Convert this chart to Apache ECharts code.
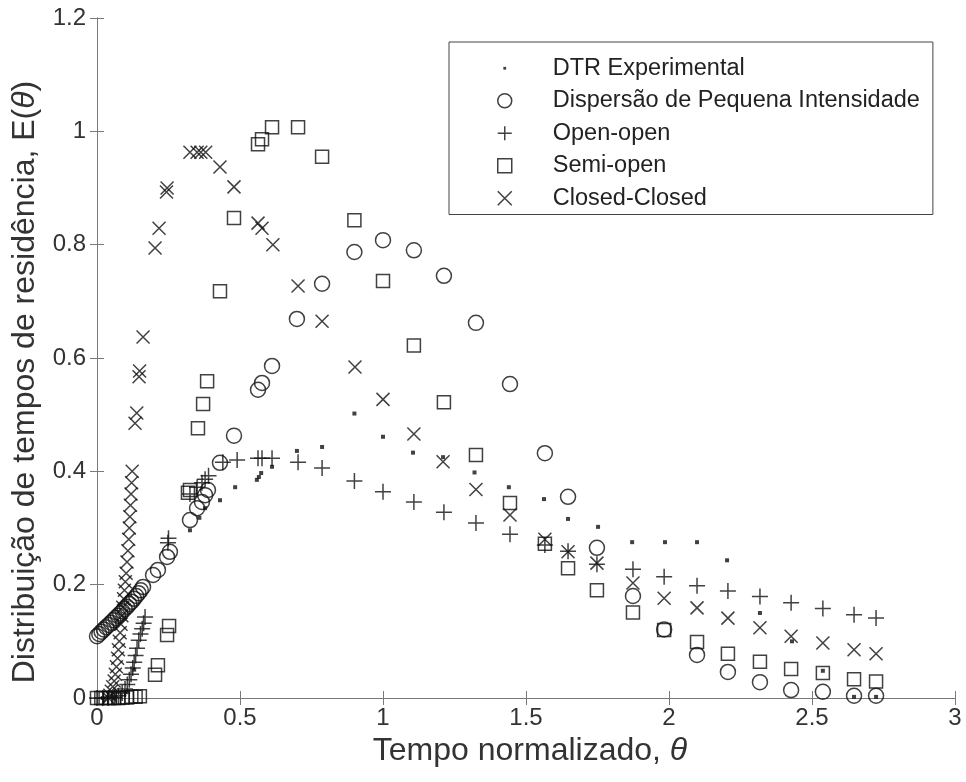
<!DOCTYPE html>
<html><head><meta charset="utf-8">
<script src="https://cdn.jsdelivr.net/npm/echarts/dist/echarts.min.js"></script>
<style>html,body{margin:0;padding:0;background:#fff}#c{width:966px;height:782px}</style>
</head><body><div id="c"></div><script>
// ---- data ----
const legendNames = ['DTR Experimental', 'Dispersão de Pequena Intensidade', 'Open-open', 'Semi-open', 'Closed-Closed'];
const xTicks = [0, 0.5, 1, 1.5, 2, 2.5, 3];
const yTicks = [0, 0.2, 0.4, 0.6, 0.8, 1, 1.2];

const expX = [0.02, 0.06, 0.10, 0.13, 0.325, 0.358, 0.378, 0.43, 0.483, 0.559, 0.566, 0.574, 0.612, 0.699, 0.787, 0.9, 1.0, 1.105, 1.21, 1.32, 1.44, 1.563, 1.647, 1.752, 1.871, 1.986, 2.098, 2.203, 2.318, 2.43, 2.538, 2.647, 2.724];
const expY = [0.0, 0.0, 0.01, 0.05, 0.296, 0.318, 0.335, 0.349, 0.372, 0.385, 0.39, 0.397, 0.408, 0.436, 0.443, 0.502, 0.461, 0.433, 0.425, 0.398, 0.372, 0.351, 0.316, 0.302, 0.275, 0.275, 0.275, 0.243, 0.15, 0.10, 0.048, 0.002, 0.002];

const dispX = [0.0, 0.008, 0.016, 0.024, 0.032, 0.041, 0.049, 0.057, 0.065, 0.073, 0.081, 0.089, 0.097, 0.105, 0.113, 0.121, 0.129, 0.137, 0.145, 0.153, 0.161, 0.196, 0.213, 0.245, 0.255, 0.325, 0.35, 0.367, 0.378, 0.388, 0.43, 0.479, 0.563, 0.577, 0.612, 0.699, 0.787, 0.9, 1.0, 1.108, 1.213, 1.325, 1.444, 1.566, 1.647, 1.748, 1.874, 1.983, 2.098, 2.206, 2.318, 2.427, 2.538, 2.647, 2.724];
const dispY = [0.109, 0.113, 0.117, 0.121, 0.125, 0.129, 0.133, 0.137, 0.141, 0.145, 0.149, 0.153, 0.157, 0.161, 0.166, 0.170, 0.175, 0.180, 0.185, 0.190, 0.196, 0.217, 0.226, 0.249, 0.258, 0.314, 0.335, 0.346, 0.358, 0.367, 0.415, 0.463, 0.544, 0.556, 0.586, 0.669, 0.731, 0.787, 0.808, 0.79, 0.745, 0.662, 0.554, 0.432, 0.355, 0.265, 0.18, 0.121, 0.076, 0.046, 0.028, 0.014, 0.011, 0.004, 0.004];

const openX = [0.0, 0.02, 0.04, 0.06, 0.075, 0.088, 0.098, 0.106, 0.113, 0.119, 0.125, 0.13, 0.135, 0.14, 0.146, 0.152, 0.158, 0.163, 0.168, 0.248, 0.25, 0.325, 0.35, 0.367, 0.378, 0.39, 0.44, 0.49, 0.563, 0.577, 0.612, 0.703, 0.787, 0.9, 1.0, 1.108, 1.213, 1.325, 1.444, 1.566, 1.647, 1.748, 1.874, 1.983, 2.098, 2.206, 2.318, 2.427, 2.538, 2.647, 2.724];
const openY = [0.0, 0.0, 0.0, 0.001, 0.004, 0.009, 0.016, 0.024, 0.032, 0.042, 0.053, 0.063, 0.075, 0.088, 0.102, 0.113, 0.122, 0.132, 0.143, 0.274, 0.282, 0.36, 0.372, 0.38, 0.386, 0.392, 0.416, 0.42, 0.423, 0.423, 0.423, 0.416, 0.406, 0.383, 0.364, 0.346, 0.328, 0.309, 0.289, 0.27, 0.259, 0.236, 0.227, 0.214, 0.198, 0.189, 0.179, 0.168, 0.158, 0.147, 0.141];

const semiX = [0.0, 0.015, 0.03, 0.045, 0.06, 0.075, 0.09, 0.105, 0.12, 0.135, 0.15, 0.203, 0.213, 0.245, 0.252, 0.318, 0.325, 0.353, 0.371, 0.385, 0.43, 0.479, 0.563, 0.577, 0.612, 0.703, 0.787, 0.9, 1.0, 1.108, 1.213, 1.325, 1.444, 1.566, 1.647, 1.748, 1.874, 1.983, 2.098, 2.206, 2.318, 2.427, 2.538, 2.647, 2.724];
const semiY = [0.0, 0.0, 0.0, 0.0, 0.0, 0.0, 0.001, 0.001, 0.002, 0.002, 0.003, 0.041, 0.058, 0.111, 0.127, 0.362, 0.367, 0.476, 0.519, 0.559, 0.718, 0.847, 0.977, 0.986, 1.007, 1.007, 0.955, 0.843, 0.736, 0.622, 0.522, 0.429, 0.344, 0.272, 0.229, 0.19, 0.151, 0.12, 0.099, 0.078, 0.064, 0.051, 0.044, 0.033, 0.029];

const closedX = [0.040, 0.045, 0.050, 0.055, 0.060, 0.064, 0.068, 0.072, 0.075, 0.078, 0.081, 0.084, 0.087, 0.090, 0.093, 0.096, 0.099, 0.102, 0.105, 0.108, 0.111, 0.113, 0.115, 0.117, 0.119, 0.121, 0.123, 0.133, 0.139, 0.147, 0.149, 0.161, 0.203, 0.217, 0.243, 0.245, 0.325, 0.35, 0.363, 0.38, 0.43, 0.479, 0.563, 0.577, 0.615, 0.703, 0.787, 0.902, 1.0, 1.108, 1.21, 1.325, 1.444, 1.566, 1.647, 1.748, 1.874, 1.983, 2.098, 2.206, 2.318, 2.427, 2.538, 2.647, 2.724];
const closedY = [0.0, 0.005, 0.012, 0.02, 0.03, 0.042, 0.055, 0.07, 0.085, 0.10, 0.115, 0.13, 0.145, 0.16, 0.175, 0.19, 0.205, 0.22, 0.24, 0.26, 0.28, 0.30, 0.32, 0.34, 0.36, 0.38, 0.40, 0.485, 0.503, 0.567, 0.577, 0.637, 0.794, 0.829, 0.893, 0.90, 0.963, 0.963, 0.963, 0.963, 0.937, 0.902, 0.838, 0.829, 0.80, 0.727, 0.665, 0.584, 0.527, 0.466, 0.417, 0.368, 0.323, 0.28, 0.258, 0.238, 0.203, 0.176, 0.159, 0.141, 0.124, 0.109, 0.097, 0.085, 0.078];

// ---- chart ----
const pairs = (xs, ys) => xs.map((x, i) => [x, ys[i]]);
const INK = '#111';
const P_PLUS = 'path://M0,5L10,5M5,0L5,10';
const P_CROSS = 'path://M0,0L10,10M10,0L0,10';
const P_CIRC = 'path://M0,5A5,5,0,1,1,10,5A5,5,0,1,1,0,5Z';
const P_SQ = 'path://M0,0L10,0L10,10L0,10Z';
const P_DOT = 'path://M0,0M10,10M4,4L6,4L6,6L4,6Z';
const hollow = {color: 'rgba(0,0,0,0)', borderColor: INK, borderWidth: 1.5};
const FONT = '"Liberation Sans", Arial, sans-serif';
const AX = '#7a7a7a';
const TITLE = 32;

const chart = echarts.init(document.getElementById('c'));
chart.setOption({
  animation: false,
  backgroundColor: '#fff',
  textStyle: {fontFamily: FONT},
  grid: {left: 97, right: 11, top: 18, bottom: 84, containLabel: false},
  legend: {
    orient: 'vertical', left: 449, top: 42,
    padding: [10, 13, 0, 48],
    borderColor: '#444', borderWidth: 1,
    itemWidth: 86, itemHeight: 14, itemGap: 0,
    textStyle: {fontFamily: FONT, fontSize: 23.5, color: '#222', lineHeight: 32.5},
    data: [
      {name: legendNames[0], icon: P_DOT, itemStyle: {color: INK, borderWidth: 0}},
      {name: legendNames[1], icon: P_CIRC, itemStyle: hollow},
      {name: legendNames[2], icon: P_PLUS, itemStyle: hollow},
      {name: legendNames[3], icon: P_SQ, itemStyle: hollow},
      {name: legendNames[4], icon: P_CROSS, itemStyle: hollow}
    ]
  },
  xAxis: [{
    type: 'value', min: xTicks[0], max: xTicks[xTicks.length - 1], interval: 0.5,
    name: 'Tempo normalizado, {t|θ}', nameLocation: 'middle', nameGap: 37,
    nameTextStyle: {fontFamily: FONT, fontSize: TITLE, color: '#333', padding: [0, 0, 0, 8], rich: {t: {fontFamily: FONT, fontSize: TITLE, fontStyle: 'italic', color: '#333'}}},
    axisLine: {show: true, lineStyle: {color: AX, width: 1}},
    axisTick: {show: true, inside: true, length: 7, lineStyle: {color: AX}},
    axisLabel: {fontFamily: FONT, fontSize: 24, color: '#333', margin: 8},
    splitLine: {show: false}
  }, {
    type: 'value', position: 'top', min: 0, max: 3, interval: 0.5,
    axisLine: {show: true, lineStyle: {color: AX, width: 1}},
    axisTick: {show: true, inside: true, length: 7, lineStyle: {color: AX}},
    axisLabel: {show: false}, splitLine: {show: false}
  }],
  yAxis: [{
    type: 'value', min: yTicks[0], max: yTicks[yTicks.length - 1], interval: 0.2,
    name: 'Distribuição de tempos de residência, E({t|θ})', nameLocation: 'middle', nameGap: 56,
    nameTextStyle: {fontFamily: FONT, fontSize: TITLE, color: '#333', padding: [0, 48, 0, 0], rich: {t: {fontFamily: FONT, fontSize: TITLE, fontStyle: 'italic', color: '#333'}}},
    axisLine: {show: true, lineStyle: {color: AX, width: 1}},
    axisTick: {show: true, inside: true, length: 7, lineStyle: {color: AX}},
    axisLabel: {fontFamily: FONT, fontSize: 24, color: '#333', margin: 11},
    splitLine: {show: false}
  }, {
    type: 'value', position: 'right', min: 0, max: 1.2, interval: 0.2,
    axisLine: {show: true, lineStyle: {color: AX, width: 1}},
    axisTick: {show: true, inside: true, length: 7, lineStyle: {color: AX}},
    axisLabel: {show: false}, splitLine: {show: false}
  }],
  series: [
    {name: legendNames[0], type: 'scatter', data: pairs(expX, expY), symbol: 'rect', symbolSize: 4, itemStyle: {color: INK}},
    {name: legendNames[1], type: 'scatter', data: pairs(dispX, dispY), symbol: P_CIRC, symbolSize: 15, itemStyle: hollow},
    {name: legendNames[2], type: 'scatter', data: pairs(openX, openY), symbol: P_PLUS, symbolSize: 16, itemStyle: hollow},
    {name: legendNames[3], type: 'scatter', data: pairs(semiX, semiY), symbol: P_SQ, symbolSize: 13, itemStyle: hollow},
    {name: legendNames[4], type: 'scatter', data: pairs(closedX, closedY), symbol: P_CROSS, symbolSize: 13, itemStyle: hollow}
  ]
});
</script></body></html>
